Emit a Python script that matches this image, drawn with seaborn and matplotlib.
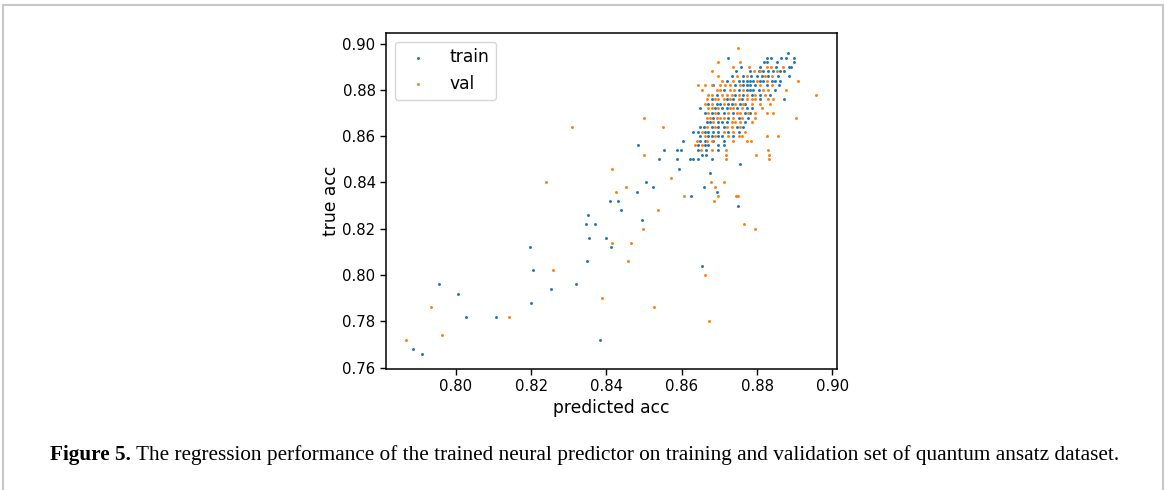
import numpy as np
import pandas as pd
import matplotlib
matplotlib.use("Agg")
import matplotlib.pyplot as plt
import seaborn as sns
from matplotlib.patches import Rectangle

# ---------------- data ----------------
train_x = [
    0.8881,
    0.8724, 0.8827, 0.8836, 0.8864, 0.8877, 0.8899,
    0.8819, 0.8826, 0.8854, 0.8899,
    0.8758, 0.8809, 0.8850, 0.8886, 0.8890,
    0.8743, 0.8781, 0.8804, 0.8817, 0.8830, 0.8843, 0.8861, 0.8872,
    0.8733, 0.8762, 0.8784, 0.8799, 0.8812, 0.8830, 0.8856, 0.8886,
    0.8720, 0.8751, 0.8764, 0.8773, 0.8781, 0.8790, 0.8808, 0.8817, 0.8839, 0.8848, 0.8861,
    0.8684, 0.8742, 0.8764, 0.8773, 0.8781, 0.8795, 0.8826, 0.8859,
    0.8711, 0.8751, 0.8773, 0.8781, 0.8790, 0.8804, 0.8848,
    0.8693, 0.8742, 0.8764, 0.8786, 0.8808, 0.8835,
    0.8680, 0.8720, 0.8737, 0.8760, 0.8808, 0.8873,
    0.8671, 0.8693, 0.8702, 0.8724, 0.8733, 0.8755, 0.8768,
    0.8649, 0.8689, 0.8706, 0.8720, 0.8746, 0.8773, 0.8786,
    0.8662, 0.8680, 0.8697, 0.8711, 0.8737, 0.8768, 0.8781,
    0.8684, 0.8724, 0.8751, 0.8777,
    0.8666, 0.8675, 0.8697, 0.8706, 0.8720, 0.8768,
    0.8649, 0.8658, 0.8680, 0.8697, 0.8711, 0.8746, 0.8764,
    0.8631, 0.8644, 0.8662, 0.8671, 0.8684, 0.8697, 0.8724, 0.8751,
    0.8649, 0.8671, 0.8680, 0.8697, 0.8706, 0.8737,
    0.8604, 0.8649, 0.8662, 0.8684, 0.8711,
    0.8485, 0.8643, 0.8662, 0.8671, 0.8697, 0.8711,
    0.8554, 0.8588, 0.8598, 0.8643, 0.8665, 0.8697,
    0.8653, 0.8665,
    0.8540, 0.8588, 0.8621, 0.8630, 0.8642, 0.8681,
    0.8754, 0.8593, 0.8675, 0.8505, 0.8524, 0.8658, 0.8480, 0.8694,
    0.8625, 0.8409, 0.8432, 0.8749, 0.8438, 0.8350, 0.8495, 0.8347, 0.8371,
    0.8354, 0.8398, 0.8197, 0.8412, 0.8348, 0.8655, 0.8205, 0.7954, 0.8318,
    0.8253, 0.8007, 0.8199, 0.8027, 0.8108, 0.8383, 0.7886, 0.7910,
]
train_y = (
    [0.896]
    + [0.894] * 6
    + [0.892] * 4
    + [0.890] * 5
    + [0.888] * 8
    + [0.886] * 8
    + [0.884] * 11
    + [0.882] * 8
    + [0.880] * 7
    + [0.878] * 6
    + [0.876] * 6
    + [0.874] * 7
    + [0.872] * 7
    + [0.870] * 7
    + [0.868] * 4
    + [0.866] * 6
    + [0.864] * 7
    + [0.862] * 8
    + [0.860] * 6
    + [0.858] * 5
    + [0.856] * 6
    + [0.854] * 6
    + [0.852] * 2
    + [0.850] * 6
    + [0.848, 0.846, 0.844, 0.840, 0.838, 0.838, 0.836, 0.836,
       0.834, 0.832, 0.832, 0.830, 0.828, 0.826, 0.824, 0.822, 0.822,
       0.816, 0.816, 0.812, 0.812, 0.806, 0.804, 0.802, 0.796, 0.796,
       0.794, 0.792, 0.788, 0.782, 0.782, 0.772, 0.768, 0.766]
)

val_x = [
    0.8750,
    0.8697, 0.8755,
    0.8735, 0.8779, 0.8826, 0.8838, 0.8870,
    0.8681, 0.8793, 0.8808, 0.8852,
    0.8696, 0.8746, 0.8773, 0.8821, 0.8839,
    0.8706, 0.8737, 0.8799, 0.8826, 0.8909,
    0.8644, 0.8662, 0.8681, 0.8702, 0.8715, 0.8728, 0.8755, 0.8808, 0.8839,
    0.8655, 0.8693, 0.8702, 0.8728, 0.8739, 0.8764, 0.8817, 0.8830, 0.8877,
    0.8671, 0.8681, 0.8706, 0.8720, 0.8733, 0.8751, 0.8773, 0.8795, 0.8821, 0.8958,
    0.8666, 0.8689, 0.8697, 0.8711, 0.8728, 0.8751, 0.8773, 0.8786, 0.8795, 0.8830, 0.8843,
    0.8662, 0.8681, 0.8711, 0.8742, 0.8764, 0.8786, 0.8808, 0.8835,
    0.8671, 0.8680, 0.8697, 0.8728, 0.8737, 0.8760, 0.8812,
    0.8671, 0.8689, 0.8724, 0.8746, 0.8755, 0.8777, 0.8795, 0.8826, 0.8843,
    0.8666, 0.8675, 0.8693, 0.8702, 0.8711, 0.8737, 0.8760, 0.8795, 0.8501, 0.8904,
    0.8684, 0.8733, 0.8742, 0.8755, 0.8786,
    0.8666, 0.8689, 0.8720, 0.8733, 0.8755, 0.8308, 0.8550,
    0.8653, 0.8711, 0.8737, 0.8768,
    0.8662, 0.8689, 0.8724, 0.8751, 0.8760, 0.8827, 0.8857,
    0.8640, 0.8666, 0.8681, 0.8737, 0.8773, 0.8784,
    0.8635, 0.8653,
    0.8650, 0.8681, 0.8718, 0.8830,
    0.8500, 0.8718, 0.8796, 0.8832,
    0.8717, 0.8833,
    0.8416, 0.8571, 0.8240, 0.8677, 0.8713, 0.8452, 0.8689, 0.8426,
    0.8605, 0.8697, 0.8745, 0.8750, 0.8687, 0.8538, 0.8766, 0.8496, 0.8794,
    0.8415, 0.8466, 0.8457, 0.8258, 0.8662, 0.8387, 0.7935, 0.8527,
    0.8142, 0.8673, 0.7963, 0.7869,
]
val_y = (
    [0.898]
    + [0.892] * 2
    + [0.890] * 5
    + [0.888] * 4
    + [0.886] * 5
    + [0.884] * 5
    + [0.882] * 9
    + [0.880] * 9
    + [0.878] * 10
    + [0.876] * 11
    + [0.874] * 8
    + [0.872] * 7
    + [0.870] * 9
    + [0.868] * 10
    + [0.866] * 5
    + [0.864] * 7
    + [0.862] * 4
    + [0.860] * 7
    + [0.858] * 6
    + [0.856] * 2
    + [0.854] * 4
    + [0.852] * 4
    + [0.850] * 2
    + [0.846, 0.842, 0.840, 0.840, 0.840, 0.838, 0.838, 0.836,
       0.834, 0.834, 0.834, 0.834, 0.832, 0.828, 0.822, 0.820, 0.820,
       0.814, 0.814, 0.806, 0.802, 0.800, 0.790, 0.786, 0.786,
       0.782, 0.780, 0.774, 0.772]
)

series_labels = ["train", "val"]
x_label = "predicted acc"
y_label = "true acc"
caption_bold = "Figure 5."
caption_text = (" The regression performance of the trained neural predictor on "
                "training and validation set of quantum ansatz dataset.")

# ---------------- figure ----------------
W, H, DPI = 1167, 490, 100
fig = plt.figure(figsize=(W / DPI, H / DPI), dpi=DPI)
fig.patch.set_facecolor("white")

# light gray page frame
fig.patches.append(Rectangle((3 / W, -0.05), (1163 - 3) / W, 1 - 5 / H + 0.05,
                             transform=fig.transFigure, fill=False,
                             edgecolor="#c8c8c8", linewidth=1.5))

ax = fig.add_axes([386 / W, 1 - 369 / H, (837 - 386) / W, (369 - 33) / H])

df_train = pd.DataFrame({"pred": train_x, "true": train_y})
df_val = pd.DataFrame({"pred": val_x, "true": val_y})

sns.scatterplot(data=df_train, x="pred", y="true", ax=ax, color="#1f77b4",
                s=4.5, linewidth=0, label=series_labels[0])
sns.scatterplot(data=df_val, x="pred", y="true", ax=ax, color="#ff7f0e",
                s=4.5, linewidth=0, label=series_labels[1])

ax.set_xticks([0.80, 0.82, 0.84, 0.86, 0.88, 0.90])
ax.set_yticks([0.76, 0.78, 0.80, 0.82, 0.84, 0.86, 0.88, 0.90])
ax.set_xticklabels(["0.80", "0.82", "0.84", "0.86", "0.88", "0.90"])
ax.set_yticklabels(["0.76", "0.78", "0.80", "0.82", "0.84", "0.86", "0.88", "0.90"])
ax.tick_params(labelsize=10.7, length=4, width=1, color="black")
for sp in ax.spines.values():
    sp.set_linewidth(1.1)
    sp.set_color("black")

ax.set_xlabel(x_label, fontsize=12.3, labelpad=3)
ax.set_ylabel(y_label, fontsize=12.3, labelpad=2)

leg = ax.legend(loc="upper left", fontsize=12.3, frameon=True)

# caption
fig.canvas.draw()
renderer = fig.canvas.get_renderer()
t1 = fig.text(50 / W, 1 - 455 / H, caption_bold, fontsize=14, fontweight="bold",
              family="Liberation Serif", va="center", ha="left")
t2 = fig.text(0, 1 - 455 / H, caption_text, fontsize=14,
              family="Liberation Serif", va="center", ha="left")
bb1 = t1.get_window_extent(renderer)
bb2 = t2.get_window_extent(renderer)
total = bb1.width + bb2.width
scale = (1123 - 50) / total
fs = 14 * scale
t1.set_fontsize(fs)
t2.set_fontsize(fs)
bb1 = t1.get_window_extent(renderer)
t2.set_x(bb1.x1 / W)

fig.savefig("out.png", dpi=DPI, facecolor="white")
